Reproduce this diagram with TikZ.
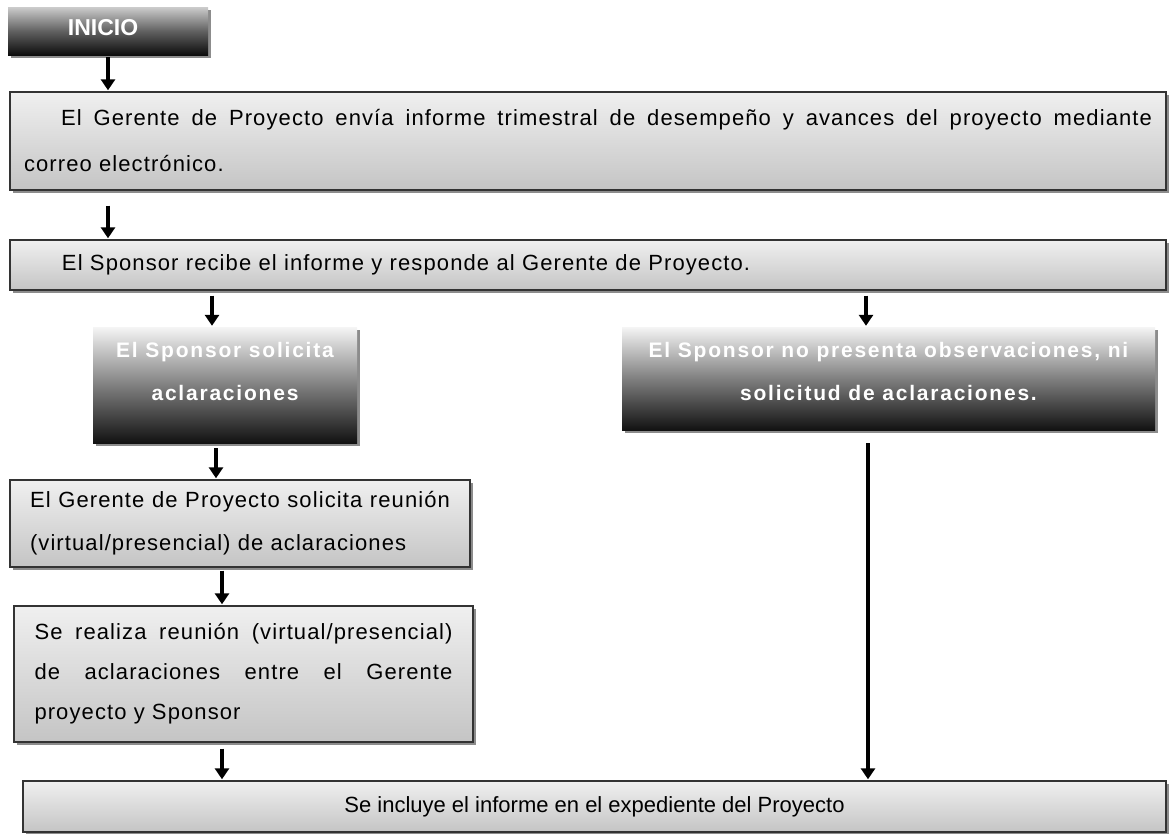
\documentclass[tikz,border=0pt]{standalone}
\usepackage{fontspec}
\setmainfont{Liberation Sans}[LetterSpace=5]
\newfontfamily\negrita{Liberation Sans}[LetterSpace=8.5]
\newfontfamily\llana{Liberation Sans}[BoldFont=Liberation Sans Bold]
\usepackage{tikz}
\usetikzlibrary{positioning,arrows.meta,shadows,calc}
\definecolor{borde}{HTML}{333333}

\begin{document}
\begin{tikzpicture}[x=1pt, y=-1pt,
  font=\fontsize{22}{44}\selectfont,
  sombra/.style={drop shadow={shadow xshift=2.5pt, shadow yshift=-2.5pt, opacity=0.45, fill=black}},
  caja/.style={draw=borde, line width=1.4pt, top color=white!94!black, bottom color=white!77!black, sombra},
  oscura/.style={draw=none, top color=black!4, bottom color=black!93, middle color=black!50, sombra},
  blanco/.style={text=white, font=\negrita\fontsize{21}{43}\selectfont\bfseries, align=center},
  flecha/.style={-{Triangle[width=14pt,length=11pt]}, line width=3.6pt}
]
  \useasboundingbox (0,0) rectangle (1169,833);

  % inicio
  \node[oscura, top color=black!20, bottom color=black!95, middle color=black!62,
        minimum width=200pt, minimum height=48pt] (inicio) at (108,31) {};
  \node[blanco, font=\llana\bfseries\fontsize{23}{23}\selectfont] (tinicio) at ($(inicio)+(-5,-3)$) {INICIO};

  % informe y respuesta
  \node[caja, minimum width=1156pt, minimum height=98pt, text width=1128pt, inner xsep=14pt,
        align=justify, font=\fontsize{22}{46}\selectfont] (gerente) at (588,141)
        {\leftskip=8pt\hspace*{37pt}El Gerente de Proyecto envía informe trimestral de desempeño y avances del proyecto mediante\linebreak correo electrónico.};
  \node[caja, minimum width=1156pt, minimum height=50pt, text width=1122pt, inner xsep=17pt,
        align=left] (recibe) at (588,265)
        {\hspace*{35pt}El Sponsor recibe el informe y responde al Gerente de Proyecto.};

  % las dos ramas
  \node[oscura, minimum width=264pt, minimum height=116pt] (solicita) at (225,385) {};
  \node[blanco] (tsolicita) at ($(solicita)+(0,-14)$) {El Sponsor solicita\\aclaraciones};
  \node[oscura, minimum width=533pt, minimum height=103pt] (noobs) at (888.5,378.5) {};
  \node[blanco] (tnoobs) at ($(noobs)+(0,-7)$) {El Sponsor no presenta observaciones, ni\\solicitud de aclaraciones.};

  \node[caja, minimum width=460pt, minimum height=87pt, text width=420pt, inner xsep=20pt,
        align=justify, font=\fontsize{22}{43}\selectfont] (reunion) at (240,523.5)
        {El Gerente de Proyecto solicita reunión\linebreak (virtual/presencial) de aclaraciones};
  \node[caja, minimum width=459pt, minimum height=136pt, text width=418pt, inner xsep=20pt,
        align=justify, font=\fontsize{22}{40}\selectfont] (realiza) at (243.5,674)
        {Se realiza reunión (virtual/presencial)\linebreak de aclaraciones entre el Gerente\linebreak proyecto y Sponsor};

  % cierre
  \node[caja, minimum width=1143pt, minimum height=51pt, font=\llana\fontsize{22}{44}\selectfont] (incluye) at (594.5,806.5)
        {Se incluye el informe en el expediente del Proyecto};

  \draw[flecha] ($(inicio.south)+(0,2)$) -- ($(inicio.south |- gerente.north)+(0,-1)$);
  \draw[flecha] ($(inicio.south |- gerente.south)+(0,15)$) -- ($(inicio.south |- recibe.north)+(0,-1)$);
  \draw[flecha] ($(solicita.north |- recibe.south)+(-13,5)$) -- ($(solicita.north)+(-13,-1)$);
  \draw[flecha] ($(noobs.north |- recibe.south)+(-22.5,5)$) -- ($(noobs.north)+(-22.5,-1)$);
  \draw[flecha] ($(reunion.north |- solicita.south)+(-24,5)$) -- ($(reunion.north)+(-24,-1)$);
  \draw[flecha] ($(realiza.north |- reunion.south)+(-21.5,3)$) -- ($(realiza.north)+(-21.5,-1)$);
  \draw[flecha] ($(realiza.south)+(-21.5,6)$) -- ($(realiza.south |- incluye.north)+(-21.5,-1)$);
  \draw[flecha] ($(noobs.south)+(-20.5,13)$) -- ($(noobs.south |- incluye.north)+(-20.5,-1)$);
\end{tikzpicture}
\end{document}
